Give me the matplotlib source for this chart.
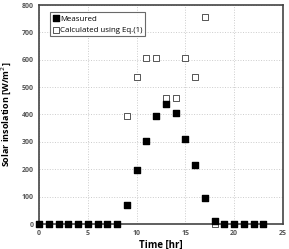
import matplotlib.pyplot as plt

hours = list(range(24))
measured = [0, 0, 0, 0, 0, 0, 0, 0, 0, 68, 196, 302, 396, 438, 405, 312, 214, 94, 10, 0, 0, 0, 0, 0]
calc_hours = [9, 10, 11, 12, 13, 14, 15, 16, 17, 18]
calculated = [393, 536, 607, 607, 462, 462, 607, 536, 757, 0]

plt.rcParams['font.family'] = ['Open Sans', 'DejaVu Sans']

fig = plt.figure(figsize=(2.89, 2.49), dpi=100)
ax = fig.add_axes([39 / 289, 25 / 249, 244 / 289, 219 / 249])

ax.scatter(calc_hours, calculated, marker='s', s=13, facecolors='white',
           edgecolors='#555555', linewidths=0.7, label='Calculated using Eq.(1)', zorder=3, clip_on=False)
ax.scatter(hours, measured, marker='s', s=15, color='black', label='Measured', zorder=4, clip_on=False)

ax.set_xlim(0, 25)
ax.set_ylim(0, 800)
ax.set_xticks(range(0, 26, 5))
ax.set_yticks(range(0, 801, 100))
ax.grid(True, color='#cccccc', linestyle=':', linewidth=0.7)
ax.set_axisbelow(True)

for s in ax.spines.values():
    s.set_color('#444444')
    s.set_linewidth(1.2)
ax.tick_params(length=0, labelsize=5, labelcolor='#555555', pad=4)
for lab in ax.get_xticklabels() + ax.get_yticklabels():
    lab.set_fontweight('bold')

ax.set_xlabel('Time [hr]', fontsize=7, fontweight='bold', labelpad=2)
ax.set_ylabel('Solar insolation [W/m$^2$]', fontsize=6.5, fontweight='bold', labelpad=6)

h, l = ax.get_legend_handles_labels()
leg = ax.legend(h[::-1], l[::-1], loc='upper left', fontsize=5.7, frameon=True, fancybox=False,
                edgecolor='#444444', handletextpad=0.1, handlelength=0.8, borderpad=0.35,
                labelspacing=0.45, bbox_to_anchor=(0.03, 0.985))
leg.get_frame().set_linewidth(0.8)

fig.savefig('out.png', dpi=100)
